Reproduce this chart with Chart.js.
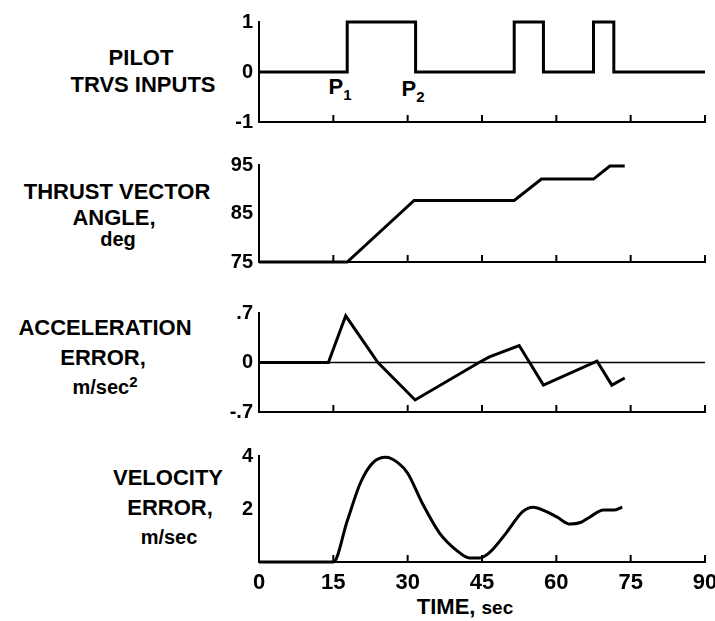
<!DOCTYPE html>
<html>
<head>
<meta charset="utf-8">
<script src="https://cdn.jsdelivr.net/npm/chart.js@4/dist/chart.umd.min.js"></script>
<style>
body { margin: 0; background: #fff; width: 715px; height: 621px; position: relative; overflow: hidden;
       font-family: 'Liberation Sans', Arial, sans-serif; font-weight: bold; color: #000; }
.box { position: absolute; left: 200px; width: 515px; }
.lbl { position: absolute; transform: translate(-50%, -50%); white-space: nowrap; font-size: 22px; line-height: 1; }
.unit { font-size: 20px; }
sub { font-size: 15px; vertical-align: -6px; }
sup { font-size: 15px; vertical-align: 7px; }
</style>
</head>
<body>

<div class="lbl" style="left:141px;top:58px">PILOT</div>
<div class="lbl" style="left:143px;top:85px">TRVS INPUTS</div>
<div class="lbl" style="left:117px;top:192px">THRUST VECTOR</div>
<div class="lbl" style="left:114px;top:218px">ANGLE,</div>
<div class="lbl unit" style="left:118px;top:239px">deg</div>
<div class="lbl" style="left:105px;top:328px">ACCELERATION</div>
<div class="lbl" style="left:103px;top:358px">ERROR,</div>
<div class="lbl unit" style="left:105px;top:385px">m/sec<sup>2</sup></div>
<div class="lbl" style="left:168px;top:478px">VELOCITY</div>
<div class="lbl" style="left:170px;top:508px">ERROR,</div>
<div class="lbl unit" style="left:169px;top:537px">m/sec</div>
<div class="lbl" style="left:465px;top:607px">TIME, <span style="font-size:19px">sec</span></div>
<div class="lbl" style="left:340px;top:89px">P<sub>1</sub></div>
<div class="lbl" style="left:413px;top:91px">P<sub>2</sub></div>

<div class="box" style="top:0px;height:140px"><canvas id="c1"></canvas></div>
<div class="box" style="top:145px;height:135px"><canvas id="c2"></canvas></div>
<div class="box" style="top:290px;height:140px"><canvas id="c3"></canvas></div>
<div class="box" style="top:430px;height:191px"><canvas id="c4"></canvas></div>

<script>
// DATA PART

var xTicks = [0, 15, 30, 45, 60, 75, 90];
var xTickLabels = ['0', '15', '30', '45', '60', '75', '90'];

var inputTime  = [0, 17.8, 17.8, 31.6, 31.6, 51.5, 51.5, 57.4, 57.4, 67.5, 67.5, 71.6, 71.6, 90];
var inputValue = [0, 0, 1, 1, 0, 0, 1, 1, 0, 0, 1, 1, 0, 0];
var inputTicks = [-1, 0, 1];
var inputTickLabels = ['-1', '0', '1'];

var angleTime  = [0, 17.8, 31.3, 51.5, 57, 67.5, 70.8, 73.8];
var angleValue = [75, 75, 87.7, 87.7, 92.1, 92.1, 94.8, 94.8];
var angleTicks = [75, 85, 95];
var angleTickLabels = ['75', '85', '95'];

var accTime  = [0, 14, 17.5, 24, 31.5, 44.4, 46.5, 52.5, 57.4, 68.2, 71.2, 73.8];
var accValue = [0, 0, 0.66, 0, -0.53, 0, 0.08, 0.24, -0.32, 0.02, -0.32, -0.22];
var accTicks = [-0.7, 0, 0.7];
var accTickLabels = ['-.7', '0', '.7'];

var velTime  = [0, 15, 17.8, 20.5, 23, 25.6, 28, 30, 33, 36.4, 39.8, 42.5, 44.5, 46.5, 49.9, 53.2, 55.3, 58, 60.1, 62.8, 65, 66.8, 69.5, 71.6, 73.3];
var velValue = [0, 0, 1.55, 3.0, 3.75, 3.95, 3.75, 3.35, 2.2, 1.1, 0.45, 0.15, 0.15, 0.35, 1.1, 1.9, 2.07, 1.9, 1.7, 1.43, 1.5, 1.7, 1.96, 1.96, 2.07];
var velTicks = [2, 4];
var velTickLabels = ['2', '4'];

// FUNCTION PART

function pairs(xs, ys){
    return xs.map((x, i) => ({x: x, y: ys[i]}));
}

var upTicks = {
    id: 'upTicks',
    afterDraw(chart){
        var ctx = chart.ctx;
        var sx = chart.scales.x;
        var bottom = chart.chartArea.bottom;
        ctx.save();
        ctx.strokeStyle = '#000';
        ctx.lineWidth = 2;
        xTicks.forEach(v => {
            if(v === 0) return;
            var px = sx.getPixelForValue(v);
            ctx.beginPath();
            ctx.moveTo(px, bottom);
            ctx.lineTo(px, bottom - 7);
            ctx.stroke();
        });
        ctx.restore();
    }
};

function makePanel(id, opts){
    var last = !!opts.showX;
    return new Chart(document.getElementById(id), {
        type: 'line',
        data: { datasets: opts.datasets },
        options: {
            responsive: true,
            maintainAspectRatio: false,
            animation: false,
            layout: { padding: { top: opts.padTop, right: 10, left: 0, bottom: 0 } },
            plugins: { legend: { display: false }, tooltip: { enabled: false } },
            elements: { point: { radius: 0 } },
            scales: {
                x: {
                    type: 'linear',
                    min: 0,
                    max: 90,
                    afterBuildTicks: s => { s.ticks = xTicks.map(v => ({value: v})); },
                    afterFit: s => {
                        s.height = opts.xHeight;
                        s.paddingLeft = 0;
                        s.paddingRight = 0;
                    },
                    grid: { display: false, drawTicks: false },
                    border: last ? { color: '#000', width: 2 } : { color: '#000', width: 2, dash: [11, 7] },
                    ticks: {
                        display: last,
                        padding: 8,
                        color: '#000',
                        font: { family: "'Liberation Sans', Arial", size: 22, weight: 'bold' },
                        maxRotation: 0,
                        callback: (v, i) => xTickLabels[i]
                    }
                },
                y: {
                    min: opts.min,
                    max: opts.max,
                    afterBuildTicks: s => { s.ticks = opts.ticks.map(v => ({value: v})); },
                    afterFit: s => { s.width = 59; },
                    grid: { display: false, drawTicks: false },
                    border: { color: '#000', width: 2 },
                    ticks: {
                        padding: 6,
                        color: '#000',
                        font: { family: "'Liberation Sans', Arial", size: 20, weight: 'bold' },
                        callback: (v, i) => opts.tickLabels[i]
                    }
                }
            }
        },
        plugins: [upTicks]
    });
}

var lineStyle = { borderColor: '#000', borderWidth: 3, clip: false, tension: 0, pointRadius: 0 };

window.onload = () => {

    makePanel('c1', {
        padTop: 22, xHeight: 15, min: -1, max: 1,
        ticks: inputTicks, tickLabels: inputTickLabels,
        datasets: [Object.assign({ data: pairs(inputTime, inputValue) }, lineStyle)]
    });

    makePanel('c2', {
        padTop: 20, xHeight: 13, min: 75, max: 95,
        ticks: angleTicks, tickLabels: angleTickLabels,
        datasets: [Object.assign({ data: pairs(angleTime, angleValue) }, lineStyle)]
    });

    makePanel('c3', {
        padTop: 23, xHeight: 15, min: -0.7, max: 0.7,
        ticks: accTicks, tickLabels: accTickLabels,
        datasets: [
            Object.assign({ data: pairs(accTime, accValue) }, lineStyle),
            { data: pairs([0, 90], [0, 0]), borderColor: '#000', borderWidth: 1.5, pointRadius: 0, clip: false }
        ]
    });

    makePanel('c4', {
        padTop: 26, xHeight: 59, min: 0, max: 4, showX: true,
        ticks: velTicks, tickLabels: velTickLabels,
        datasets: [Object.assign({ data: pairs(velTime, velValue), cubicInterpolationMode: 'monotone' }, lineStyle)]
    });

};
</script>
</body>
</html>
